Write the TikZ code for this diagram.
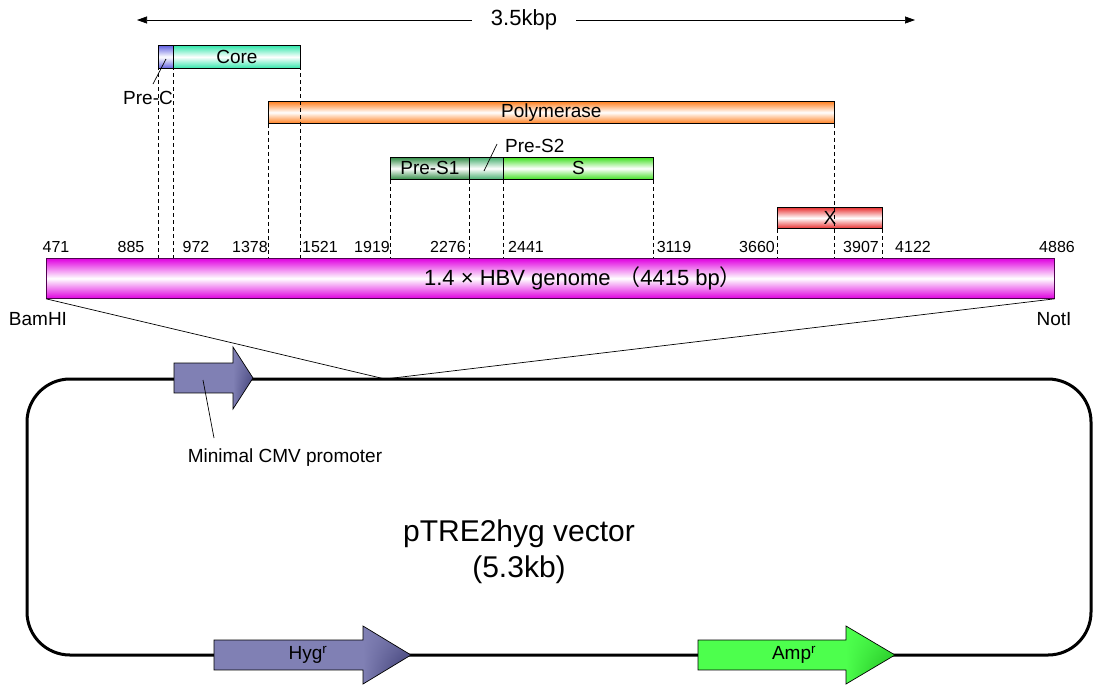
\documentclass[tikz,border=0pt]{standalone}
\usepackage{fontspec}
\setmainfont{Liberation Sans}
\newfontfamily\cjk{Noto Sans CJK JP}
\usetikzlibrary{arrows.meta,shadings}
\definecolor{precol}{RGB}{96,96,224}
\definecolor{corecol}{RGB}{48,230,170}
\definecolor{polcol}{RGB}{255,128,32}
\definecolor{ps1col}{RGB}{50,140,70}
\definecolor{ps2col}{RGB}{70,175,110}
\definecolor{scol}{RGB}{64,224,32}
\definecolor{xcol}{RGB}{232,48,48}
\definecolor{gencol}{RGB}{224,0,224}
\definecolor{gendraw}{RGB}{80,0,80}
\definecolor{hygcol}{RGB}{128,128,180}
\definecolor{hygdark}{RGB}{40,40,96}
\definecolor{ampcol}{RGB}{77,255,77}
\definecolor{ampdark}{RGB}{20,170,20}
\newcommand{\geneArrow}[8]{%
  \shade[upper left=#7, lower left=#7, upper right=#7!85!#8, lower right=#8]
    (#2,#4-#6) -- (#3,#4) -- (#2,#4+#6) -- cycle;
  \fill[#7] (#1,#4-#5) rectangle (#2,#4+#5);
  \draw[line width=0.7pt, line join=miter] (#1,#4-#5) -- (#2,#4-#5) -- (#2,#4-#6) -- (#3,#4)
    -- (#2,#4+#6) -- (#2,#4+#5) -- (#1,#4+#5) -- cycle;
}
\begin{document}
\begin{tikzpicture}[x=1pt,y=-1pt,
  gbox/.style={draw=black, line width=0.8pt, inner sep=0pt, anchor=north west,
    top color=#1, bottom color=#1, middle color=white, font=\fontsize{19}{22}\selectfont},
  lab/.style={inner sep=0pt, font=\fontsize{19}{22}\selectfont},
  num/.style={inner sep=0pt, font=\fontsize{16}{18}\selectfont},
  dsh/.style={dash pattern=on 4pt off 3pt, line width=0.7pt},
  lead/.style={line width=0.7pt}
]
\useasboundingbox (0,0) rectangle (1094,686);

% top scale arrow
\coordinate (al) at (137,20);
\coordinate (ar) at (915,20);
\draw[lead, {Triangle[length=10pt,width=7pt]}-{Triangle[length=10pt,width=7pt]}] (al) -- (ar);
\node[fill=white, inner xsep=19pt, inner ysep=0pt, font=\fontsize{22}{26}\selectfont] (kbp) at (524,20) {3.5kbp};

% gene boxes
\node[gbox=precol, minimum width=15pt, minimum height=23pt] (prec) at (158,45) {};
\node[gbox=corecol, minimum width=127pt, minimum height=23pt] (core) at (173,45) {Core};
\node[gbox=polcol, minimum width=566pt, minimum height=22pt] (poly) at (268,101) {Polymerase};
\node[gbox=ps1col, minimum width=79pt, minimum height=22pt] (ps1) at (390,157) {Pre-S1};
\node[gbox=ps2col, minimum width=34pt, minimum height=22pt] (ps2) at (469,157) {};
\node[gbox=scol, minimum width=150pt, minimum height=22pt] (sgene) at (503,157) {S};
\node[gbox=xcol, minimum width=105pt, minimum height=21pt] (xgene) at (777,207) {X};

% genome bar
\node[gbox=gencol, draw=gendraw, minimum width=1008pt, minimum height=40pt] (genome) at (46,258) {};
\node[inner sep=0pt, font=\fontsize{22}{26}\selectfont] (genlab) at (583,278)
  {1.4 × HBV genome\hspace{0.35em}{\cjk （}4415 bp{\cjk ）}};

% dashed guide lines
\draw[dsh] (prec.north west) -- (prec.north west |- genome.north);
\draw[dsh] (prec.north east) -- (prec.north east |- genome.north);
\draw[dsh] (core.north east) -- (core.north east |- genome.north);
\draw[dsh] (poly.south west) -- (poly.south west |- genome.north);
\draw[dsh] (poly.south east) -- (poly.south east |- genome.north);
\draw[dsh] (ps1.south west) -- (ps1.south west |- genome.north);
\draw[dsh] (ps1.south east) -- (ps1.south east |- genome.north);
\draw[dsh] (sgene.south west) -- (sgene.south west |- genome.north);
\draw[dsh] (sgene.south east) -- (sgene.south east |- genome.north);
\draw[dsh] (xgene.south west) -- (xgene.south west |- genome.north);
\draw[dsh] (xgene.south east) -- (xgene.south east |- genome.north);

% small labels with leaders
\node[lab] (preclab) at (148,98) {Pre-C};
\coordinate (precl1) at (153,84);
\coordinate (precl2) at (166,59);
\draw[lead] (precl1) -- (precl2);
\node[lab, anchor=west] (ps2lab) at (505,146) {Pre-S2};
\coordinate (ps2l1) at (497,144);
\coordinate (ps2l2) at (484,171);
\draw[lead] (ps2l1) -- (ps2l2);

% position numbers
\node[num] (n471) at (56,247) {471};
\node[num] (n885) at (131,247) {885};
\node[num] (n972) at (196,247) {972};
\node[num] (n1378) at (250,247) {1378};
\node[num] (n1521) at (320,247) {1521};
\node[num] (n1919) at (372,247) {1919};
\node[num] (n2276) at (448,247) {2276};
\node[num] (n2441) at (526,247) {2441};
\node[num] (n3119) at (674,247) {3119};
\node[num] (n3660) at (757,247) {3660};
\node[num] (n3907) at (861,247) {3907};
\node[num] (n4122) at (913,247) {4122};
\node[num] (n4886) at (1057,247) {4886};

\node[lab] (bam) at (38,319) {BamHI};
\node[lab] (noti) at (1054,319) {NotI};

% vector
\node[draw, line width=3pt, rounded corners=43pt, minimum width=1064pt, minimum height=276pt, inner sep=0pt] (vec) at (559,517) {};
\coordinate (meet) at (385,379);
\draw[lead] (genome.south west) -- (meet) -- (genome.south east);

\node[inner sep=0pt, align=center, font=\fontsize{30}{36}\selectfont] (veclab) at (519,552) {pTRE2hyg vector\\(5.3kb)};

% gene arrows on the vector
\geneArrow{174}{233}{253}{378}{15}{31}{hygcol}{hygdark}
\geneArrow{214}{363}{411}{655}{15}{29}{hygcol}{hygdark}
\geneArrow{698}{846}{895}{655}{15}{29}{ampcol}{ampdark}
\node[lab] (hyglab) at (308,655) {Hyg\textsuperscript{r}};
\node[lab] (amplab) at (794,655) {Amp\textsuperscript{r}};

\node[lab] (cmvlab) at (285,458) {Minimal CMV promoter};
\coordinate (cmvl1) at (214,438);
\coordinate (cmvl2) at (203,380);
\draw[lead] (cmvl1) -- (cmvl2);
\end{tikzpicture}
\end{document}
